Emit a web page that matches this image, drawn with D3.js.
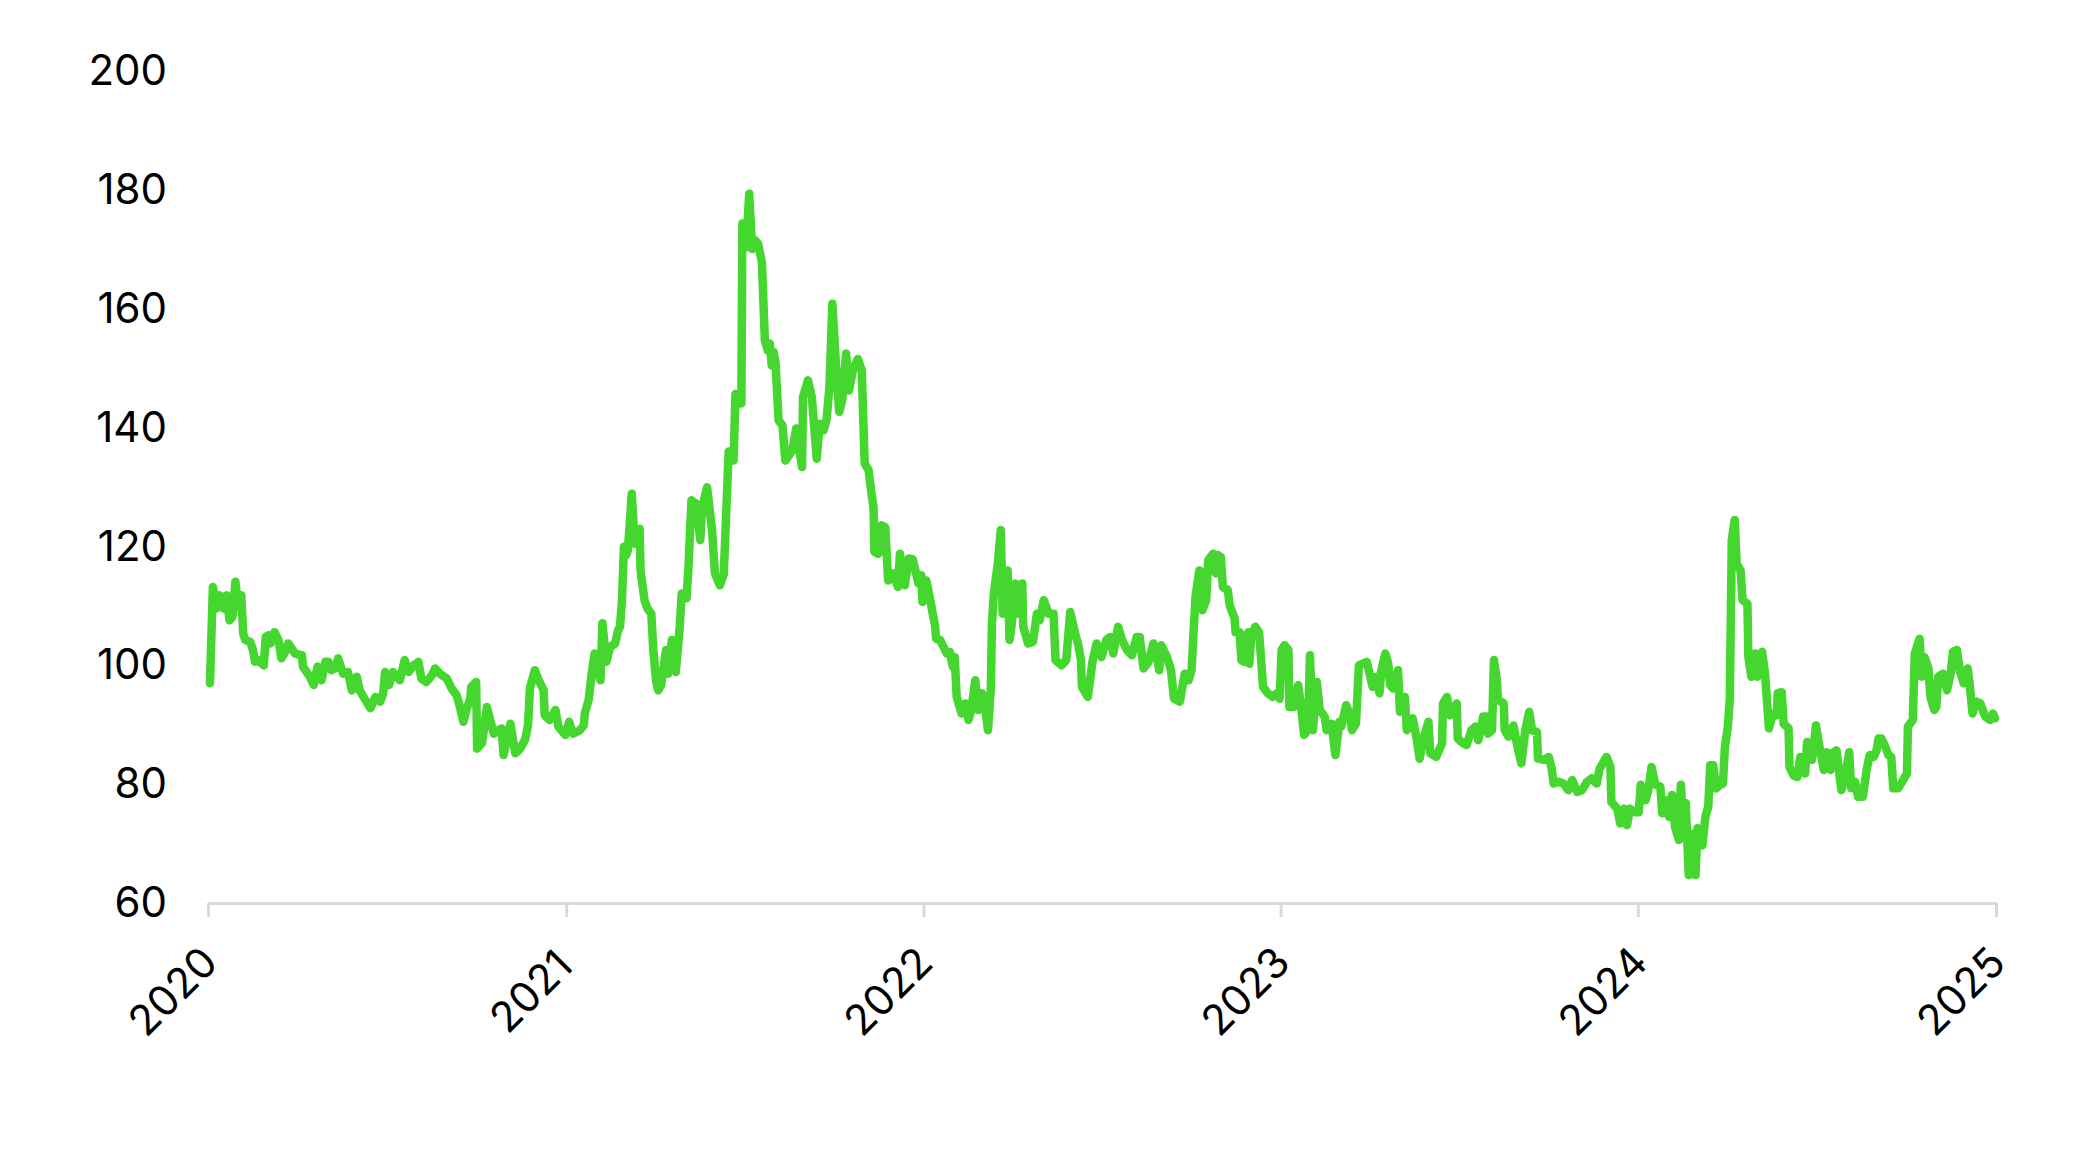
<!DOCTYPE html>
<html>
<head>
<meta charset="utf-8">
<script src="https://cdn.jsdelivr.net/npm/d3@7"></script>
<style>
  html, body { margin: 0; padding: 0; background: #fff; }
  #chart-area text { font-family: "Inter", "Open Sans", sans-serif; fill: #000; }
</style>
</head>
<body>
<div id="chart-area"></div>
<script>
// days since 2020-01-01 and the index value
const dayIndex = [
  2, 5, 9, 12, 16, 19, 22, 25, 28, 31, 34, 36, 38, 43, 46, 48, 51, 57, 59, 62,
  64, 68, 72, 75, 79, 82, 89, 96, 97, 104, 108, 112, 116, 120, 123, 126, 130, 133, 138, 143,
  147, 152, 155, 160, 166, 171, 176, 179, 181, 185, 189, 196, 201, 205, 210, 215, 218, 223, 229, 232,
  237, 244, 249, 254, 257, 261, 264, 268, 269, 274, 275, 280, 285, 292, 297, 300, 302, 309, 314, 319,
  324, 327, 329, 334, 338, 343, 344, 349, 355, 358, 365, 369, 373, 380, 384, 385, 389, 392, 395, 398,
  401, 403, 407, 411, 416, 419, 421, 423, 424, 425, 427, 429, 433, 436, 441, 442, 446, 449, 453, 455,
  458, 460, 463, 468, 470, 474, 478, 482, 484, 489, 491, 494, 499, 503, 505, 510, 515, 518, 523, 527,
  532, 537, 539, 545, 546, 550, 553, 556, 559, 562, 566, 569, 572, 574, 576, 578, 580, 583, 587, 590,
  597, 601, 607, 608, 613, 617, 622, 625, 629, 632, 635, 638, 642, 645, 648, 652, 655, 659, 664, 668,
  671, 675, 678, 680, 681, 685, 688, 692, 695, 700, 705, 707, 712, 716, 720, 726, 729, 730, 734, 738,
  743, 744, 748, 755, 758, 761, 763, 765, 770, 774, 777, 780, 784, 787, 791, 794, 797, 800, 801, 803,
  807, 810, 811, 812, 817, 819, 821, 825, 828, 832, 833, 838, 843, 847, 850, 854, 859, 864, 866, 872,
  877, 881, 886, 889, 892, 893, 899, 904, 908, 913, 918, 922, 925, 930, 934, 939, 944, 949, 952, 956,
  961, 966, 969, 972, 974, 980, 984, 987, 993, 998, 1002, 1005, 1009, 1013, 1016, 1020, 1022, 1027, 1030, 1032,
  1035, 1037, 1042, 1044, 1049, 1050, 1054, 1056, 1059, 1063, 1064, 1066, 1070, 1074, 1075, 1078, 1083, 1088, 1092, 1095,
  1097, 1100, 1104, 1105, 1109, 1114, 1117, 1120, 1124, 1126, 1129, 1133, 1136, 1141, 1143, 1148, 1152, 1156, 1158, 1163,
  1167, 1169, 1173, 1176, 1180, 1184, 1187, 1190, 1194, 1197, 1199, 1203, 1206, 1208, 1211, 1216, 1218, 1223, 1225, 1231,
  1235, 1238, 1242, 1247, 1249, 1255, 1261, 1262, 1266, 1269, 1272, 1276, 1277, 1281, 1286, 1291, 1295, 1298, 1303, 1307,
  1308, 1312, 1314, 1317, 1318, 1324, 1325, 1329, 1334, 1338, 1342, 1346, 1350, 1353, 1358, 1359, 1365, 1370, 1373, 1375,
  1380, 1385, 1390, 1394, 1399, 1404, 1409, 1414, 1419, 1422, 1429, 1433, 1434, 1440, 1443, 1447, 1450, 1453, 1458, 1462,
  1464, 1469, 1472, 1475, 1479, 1484, 1486, 1489, 1493, 1496, 1499, 1503, 1505, 1508, 1510, 1513, 1516, 1518, 1520, 1522,
  1527, 1530, 1533, 1535, 1538, 1541, 1545, 1548, 1550, 1553, 1555, 1557, 1560, 1562, 1566, 1568, 1573, 1574, 1577, 1581,
  1583, 1588, 1591, 1595, 1599, 1603, 1604, 1608, 1610, 1615, 1616, 1620, 1624, 1627, 1632, 1634, 1639, 1643, 1646, 1651,
  1654, 1658, 1661, 1664, 1669, 1674, 1677, 1679, 1683, 1686, 1691, 1695, 1698, 1702, 1705, 1707, 1710, 1714, 1717, 1720,
  1722, 1727, 1731, 1736, 1737, 1742, 1744, 1749, 1751, 1754, 1758, 1760, 1764, 1766, 1768, 1773, 1777, 1781, 1783, 1787,
  1790, 1794, 1798, 1800, 1803, 1807, 1811, 1816, 1821, 1824, 1826
];

const values = [
  97.0, 113.2, 109.6, 111.8, 109.6, 111.8, 107.6, 108.2, 114.1, 109.8, 111.8, 105.4, 104.3, 104.0, 102.6, 100.6, 100.9, 100.0, 104.8, 105.1,
  103.7, 105.6, 104.3, 101.2, 102.3, 103.7, 102.0, 101.7, 99.8, 98.1, 96.7, 99.8, 97.5, 100.6, 100.6, 99.2, 99.5, 101.2, 98.6, 98.9,
  95.8, 98.1, 95.8, 94.4, 92.8, 94.7, 93.9, 95.3, 98.9, 96.7, 98.9, 97.5, 100.9, 98.9, 100.0, 100.6, 97.8, 97.2, 98.4, 99.5,
  98.6, 97.8, 96.1, 95.0, 93.3, 90.5, 92.5, 94.4, 96.4, 97.2, 86.0, 86.9, 93.0, 88.5, 89.1, 89.4, 84.9, 90.2, 85.2, 86.0,
  87.5, 89.9, 96.2, 99.2, 97.5, 95.8, 91.6, 90.8, 92.5, 89.7, 88.3, 90.5, 88.5, 89.1, 89.9, 91.9, 94.2, 98.6, 102.0, 99.2,
  97.5, 107.1, 100.6, 103.1, 103.7, 105.9, 106.5, 111.0, 115.5, 120.0, 118.5, 119.4, 128.9, 120.5, 123.0, 116.0, 111.0, 109.6, 108.7, 102.6,
  97.2, 95.8, 96.7, 102.6, 98.6, 104.3, 98.9, 106.5, 112.1, 111.3, 116.6, 127.8, 127.2, 121.1, 126.7, 130.0, 122.8, 115.5, 113.5, 115.3,
  136.0, 134.5, 145.7, 144.1, 174.4, 170.4, 179.4, 170.1, 171.6, 171.0, 167.9, 154.7, 153.0, 154.2, 150.5, 152.8, 150.8, 141.3, 140.4, 134.5,
  136.2, 139.9, 133.4, 145.2, 148.0, 145.2, 134.8, 140.7, 139.6, 141.3, 146.9, 160.9, 149.7, 142.7, 144.6, 152.5, 146.3, 149.7, 151.6, 149.7,
  134.0, 132.9, 128.9, 126.7, 119.1, 118.8, 123.6, 123.3, 114.3, 115.5, 113.2, 118.8, 113.5, 118.0, 117.9, 113.8, 115.2, 110.7, 114.3, 111.0,
  106.5, 104.5, 104.3, 102.0, 102.3, 99.8, 101.4, 94.7, 91.9, 93.6, 90.8, 92.5, 97.5, 92.5, 95.3, 93.0, 89.1, 96.4, 107.0, 112.1,
  117.1, 122.8, 116.6, 108.7, 116.0, 104.3, 106.5, 113.8, 108.7, 113.8, 106.5, 103.7, 104.0, 108.7, 107.6, 111.0, 108.7, 108.7, 100.9, 100.0,
  100.9, 109.0, 105.4, 103.7, 100.9, 96.4, 94.7, 100.9, 103.7, 101.4, 104.3, 104.8, 102.0, 106.5, 104.3, 102.6, 101.7, 104.8, 104.8, 99.5,
  100.6, 103.7, 102.0, 99.2, 103.4, 101.4, 99.2, 94.4, 93.9, 98.6, 97.5, 99.2, 111.5, 116.0, 109.3, 111.0, 117.7, 118.8, 115.5, 118.6,
  118.2, 113.2, 112.7, 110.1, 107.9, 105.6, 105.6, 100.9, 100.6, 105.6, 100.3, 104.8, 106.5, 105.6, 103.4, 96.4, 95.3, 94.7, 95.3, 94.4,
  102.6, 103.4, 102.6, 93.0, 93.0, 96.7, 93.0, 88.3, 89.1, 101.7, 89.1, 97.2, 92.5, 91.4, 89.1, 90.2, 84.9, 90.5, 89.7, 93.3,
  91.6, 89.1, 90.2, 100.0, 100.3, 100.6, 98.6, 96.4, 98.1, 95.3, 99.2, 102.0, 100.3, 96.7, 96.1, 99.2, 92.2, 94.7, 89.1, 91.1,
  87.7, 84.3, 87.7, 90.5, 85.2, 84.6, 86.9, 93.6, 94.7, 91.6, 92.5, 93.6, 87.7, 87.1, 86.6, 89.1, 89.7, 87.4, 91.4, 91.4,
  88.5, 89.1, 100.9, 97.5, 94.2, 93.6, 89.1, 88.0, 89.9, 86.3, 83.5, 89.1, 92.2, 89.1, 88.8, 84.3, 84.1, 84.6, 82.6, 80.1,
  80.4, 80.1, 79.0, 80.7, 78.7, 79.0, 80.4, 81.0, 80.1, 82.6, 84.6, 82.9, 77.0, 75.9, 73.4, 75.9, 73.1, 75.9, 75.3, 75.3,
  79.9, 77.3, 79.3, 82.9, 79.9, 79.6, 75.1, 77.3, 74.5, 78.2, 72.8, 70.6, 79.9, 71.7, 76.8, 64.7, 65.0, 71.7, 64.7, 72.6,
  69.7, 74.5, 76.2, 83.2, 83.2, 79.3, 79.9, 80.1, 86.3, 89.7, 94.2, 121.1, 124.5, 117.1, 116.0, 111.0, 110.4, 101.4, 98.1, 102.0,
  98.1, 102.3, 98.6, 89.4, 91.9, 91.6, 95.3, 95.5, 90.2, 89.4, 82.9, 81.5, 81.2, 84.6, 81.8, 87.1, 84.1, 89.9, 86.9, 82.4,
  85.4, 82.4, 85.4, 85.7, 79.0, 82.4, 85.4, 79.3, 80.4, 77.9, 77.9, 82.6, 84.9, 84.6, 85.7, 87.7, 87.7, 86.3, 84.9, 84.6,
  79.3, 79.3, 80.4, 81.8, 89.7, 90.8, 102.0, 104.5, 98.1, 101.4, 99.5, 94.7, 92.5, 93.0, 98.1, 98.6, 95.8, 98.9, 102.3, 102.6,
  99.2, 97.0, 99.5, 97.0, 91.9, 93.9, 93.6, 91.4, 90.8, 91.9, 91.1
];

const yTicks = [60, 80, 100, 120, 140, 160, 180, 200];
const xStart = "2020-01-01";
const xEnd = "2025-01-01";

const WIDTH = 2076;
const HEIGHT = 1159;
const MARGIN = { LEFT: 208, RIGHT: 80, TOP: 71.5, BOTTOM: 256 };

const svg = d3.select("#chart-area").append("svg")
  .attr("width", WIDTH)
  .attr("height", HEIGHT);

const start = d3.utcParse("%Y-%m-%d")(xStart);
const end = d3.utcParse("%Y-%m-%d")(xEnd);

const data = dayIndex.map((d, i) => ({ date: d3.utcDay.offset(start, d), value: values[i] }));

const x = d3.scaleUtc()
  .domain([start, end])
  .range([MARGIN.LEFT, WIDTH - MARGIN.RIGHT]);

const y = d3.scaleLinear()
  .domain([60, 200])
  .range([HEIGHT - MARGIN.BOTTOM, MARGIN.TOP]);

// x axis: light grey baseline, year ticks, rotated labels
const xAxis = svg.append("g")
  .attr("transform", `translate(0, ${y(60)})`)
  .call(d3.axisBottom(x)
    .ticks(d3.utcYear.every(1))
    .tickFormat(d3.utcFormat("%Y"))
    .tickSize(14)
    .tickSizeOuter(0));

xAxis.select(".domain").attr("stroke", "#d9d9d9").attr("stroke-width", 3);
xAxis.selectAll(".tick line").attr("stroke", "#d9d9d9").attr("stroke-width", 3);
xAxis.selectAll(".tick text")
  .attr("font-size", 42)
  .attr("text-anchor", "middle")
  .attr("x", -36)
  .attr("y", 88)
  .attr("dy", "0.36em")
  .attr("transform", "rotate(-45, -36, 88)");

// y axis: labels only
const yAxis = svg.append("g")
  .attr("transform", `translate(${MARGIN.LEFT}, 0)`)
  .call(d3.axisLeft(y).tickValues(yTicks).tickSize(0).tickPadding(41));

yAxis.select(".domain").remove();
yAxis.selectAll(".tick text").attr("font-size", 42);

const line = d3.line()
  .x(d => x(d.date))
  .y(d => y(d.value));

svg.append("path")
  .datum(data)
  .attr("fill", "none")
  .attr("stroke", "#45d62f")
  .attr("stroke-width", 8.5)
  .attr("stroke-linejoin", "round")
  .attr("stroke-linecap", "round")
  .attr("d", line);
</script>
</body>
</html>
